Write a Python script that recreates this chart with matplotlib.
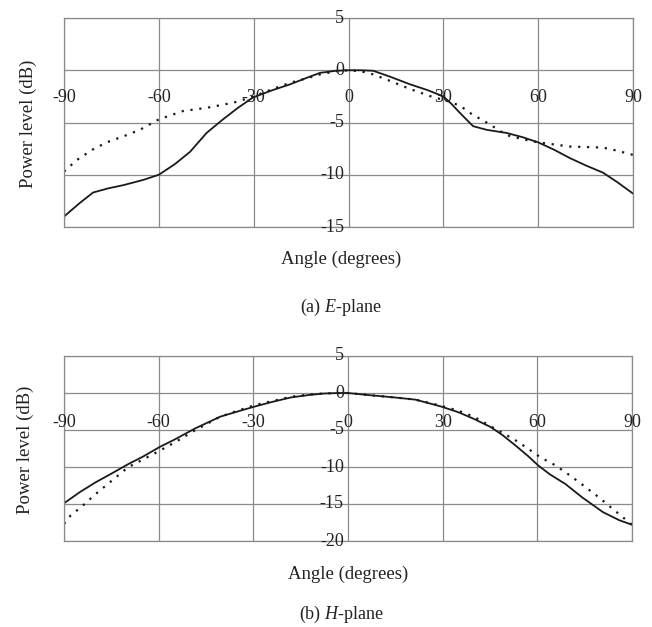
import numpy as np
import matplotlib.pyplot as plt
from matplotlib.transforms import offset_copy

plt.rcParams['font.family'] = ['Liberation Serif', 'DejaVu Serif']
plt.rcParams['mathtext.fontset'] = 'custom'
plt.rcParams['mathtext.it'] = 'Liberation Serif:italic'
plt.rcParams['mathtext.rm'] = 'Liberation Serif'

# E-plane
e_solid_x = [-90, -85, -80.8, -76, -71.3, -65, -60, -55, -50.1, -44.9, -39.7, -35, -30.2, -24, -18.5, -13, -9, -4, 0,
             4, 7.8, 13, 19.5, 25, 30, 32.5, 35.3, 39.4, 43.7, 50, 55, 60, 65, 70, 75, 80.5, 85, 90]
e_solid_y = [-14.0, -12.7, -11.7, -11.3, -11.0, -10.5, -10.0, -9.0, -7.8, -6.0, -4.7, -3.6, -2.6, -1.9, -1.35, -0.7, -0.25, -0.05, 0,
             0, -0.05, -0.6, -1.35, -1.9, -2.5, -3.2, -4.1, -5.35, -5.7, -6.0, -6.4, -6.9, -7.6, -8.4, -9.1, -9.8, -10.7, -11.8]
e_dot_x = [-90, -86, -81, -76.5, -71, -66, -60, -52.3, -45, -39.7, -35, -30, -24, -18.5, -13, -9, -4, 0,
           4, 7.8, 13, 19.5, 27, 31, 35.3, 39, 43.7, 50, 55, 60, 70, 80.5, 85, 90]
e_dot_y = [-9.7, -8.6, -7.6, -6.9, -6.3, -5.7, -4.7, -3.9, -3.6, -3.3, -3.0, -2.5, -1.8, -1.2, -0.75, -0.4, -0.1, 0,
           -0.1, -0.4, -1.0, -1.8, -2.6, -2.9, -3.4, -4.2, -5.0, -6.2, -6.6, -6.9, -7.3, -7.4, -7.7, -8.1]

# H-plane
h_solid_x = [-90, -85, -80.1, -75, -69.6, -65, -59.7, -55, -48.5, -40.5, -35, -29.3, -24, -18.1, -12, -7.6, -3, 0,
             7, 14.8, 21.4, 29.3, 35, 39.9, 45.2, 49, 53.1, 57, 60.3, 64, 68.9, 74.2, 80.8, 86, 90]
h_solid_y = [-14.9, -13.4, -12.1, -10.9, -9.6, -8.6, -7.3, -6.3, -4.8, -3.2, -2.5, -1.8, -1.2, -0.6, -0.25, -0.07, 0, 0,
             -0.3, -0.6, -0.9, -1.8, -2.6, -3.5, -4.6, -5.7, -7.1, -8.5, -9.8, -11.0, -12.3, -14.1, -16.1, -17.2, -17.8]
h_dot_x = [-90, -88, -84, -80.1, -75, -69.6, -65, -59.7, -55, -48.5, -40.5, -35, -29.3, -24, -18.1, -12, -7.6, -3, 0,
           7, 14.8, 21.4, 29.3, 35, 39.9, 45.2, 49, 53.1, 57, 61, 65, 68.9, 74, 79.5, 86, 90]
h_dot_y = [-17.7, -16.6, -15.2, -13.7, -11.9, -10.0, -9.0, -7.8, -6.7, -5.05, -3.2, -2.4, -1.6, -1.1, -0.5, -0.2, -0.05, 0, 0,
           -0.3, -0.6, -0.9, -1.7, -2.4, -3.2, -4.5, -5.4, -6.4, -7.5, -8.7, -9.6, -10.7, -12.3, -14.1, -16.4, -17.8]

x_ticks = [-90, -60, -30, 0, 30, 60, 90]
e_yticks = [5, 0, -5, -10, -15]
h_yticks = [5, 0, -5, -10, -15, -20]

W, H = 652, 627
fig = plt.figure(figsize=(W / 100, H / 100), dpi=100)

def make_axes(left, top, right, bottom):
    return fig.add_axes([left / W, 1 - bottom / H, (right - left) / W, (bottom - top) / H])

def style(ax, yticks, xlab_y):
    ax.set_xlim(-90, 90)
    ax.set_ylim(yticks[-1], yticks[0])
    ax.set_xticks(x_ticks)
    ax.set_yticks(yticks)
    ax.tick_params(length=0, labelbottom=False, labelleft=False)
    ax.grid(True, color='#8a8a8a', lw=0.9)
    ax.set_axisbelow(True)
    for s in ax.spines.values():
        s.set_color('#8a8a8a')
        s.set_linewidth(0.9)
    for t in x_ticks:
        ax.text(t, xlab_y, str(t), ha='center', va='center', fontsize=13, color='#222222')
    tr = offset_copy(ax.transData, fig=fig, x=-3, y=0, units='points')
    for v in yticks:
        ax.text(0, v, str(v), ha='right', va='center', fontsize=13, color='#222222', transform=tr)

ax1 = make_axes(64, 18, 633, 227)
ax1.plot(e_solid_x, e_solid_y, color='#1a1a1a', lw=1.3)
ax1.plot(e_dot_x, e_dot_y, color='#1a1a1a', lw=1.6, linestyle=(0, (1, 3)))
style(ax1, e_yticks, -2.6)

ax2 = make_axes(64, 356, 632, 541)
ax2.plot(h_solid_x, h_solid_y, color='#1a1a1a', lw=1.3)
ax2.plot(h_dot_x, h_dot_y, color='#1a1a1a', lw=1.6, linestyle=(0, (1, 3)))
style(ax2, h_yticks, -4.0)

fig.text(28 / W, 1 - 124 / H, 'Power level (dB)', rotation=90, ha='center', va='center', fontsize=13.5, color='#222222')
fig.text(25 / W, 1 - 450 / H, 'Power level (dB)', rotation=90, ha='center', va='center', fontsize=13.5, color='#222222')
fig.text(341 / W, 1 - 259 / H, 'Angle (degrees)', ha='center', va='center', fontsize=13.5, color='#222222')
fig.text(348 / W, 1 - 574 / H, 'Angle (degrees)', ha='center', va='center', fontsize=13.5, color='#222222')
fig.text(341 / W, 1 - 307 / H, '(a) $\\mathit{E}$-plane', ha='center', va='center', fontsize=13, color='#222222')
fig.text(341 / W, 1 - 614 / H, '(b) $\\mathit{H}$-plane', ha='center', va='center', fontsize=13, color='#222222')

fig.savefig('out.png', dpi=100, facecolor='white')
